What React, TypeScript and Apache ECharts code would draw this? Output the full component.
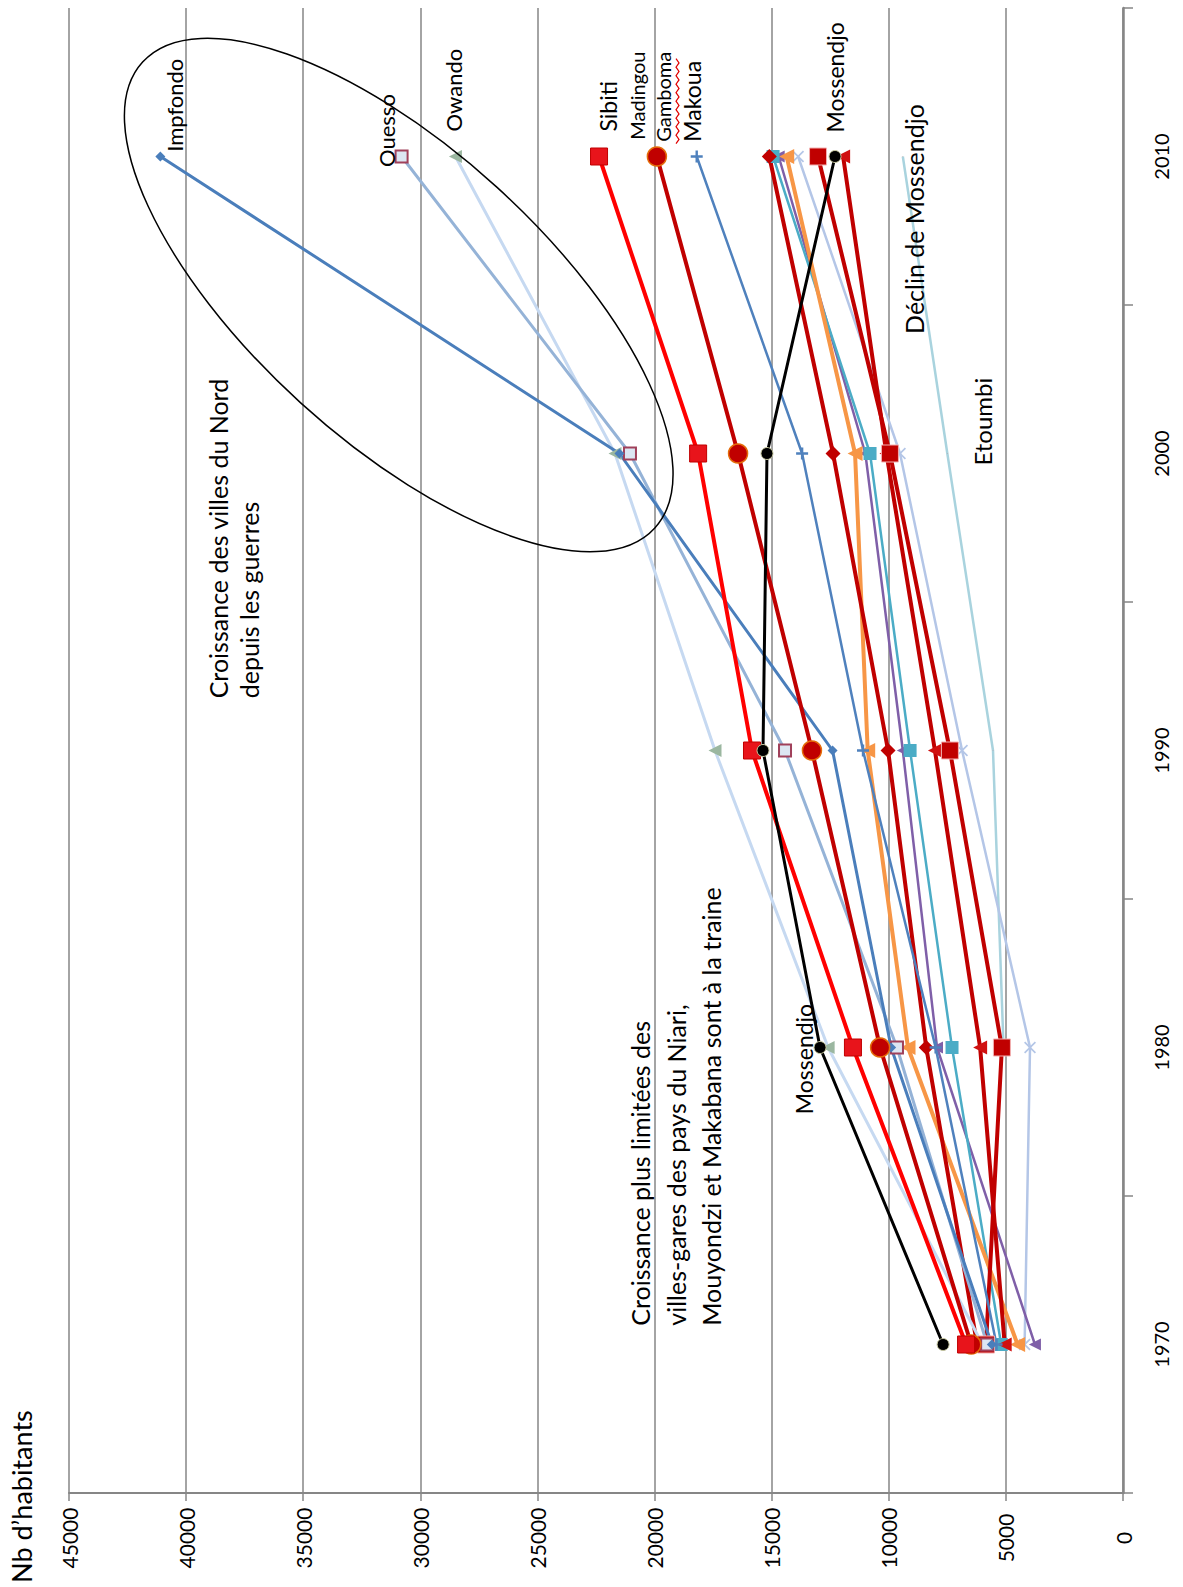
import React, { useEffect, useRef } from "react";
import * as echarts from "echarts";

const years = ["1970", "1980", "1990", "2000", "2010"];

const impfondo = [5600, 9900, 12400, 21500, 41100];
const ouesso = [5800, 9650, 14430, 21050, 30800];
const owando = [6000, 12590, 17420, 21690, 28500];
const sibiti = [6700, 11530, 15840, 18140, 22370];
const madingou = [6480, 10370, 13280, 16435, 19900];
const makoua = [5400, 8000, 11100, 13700, 18200];
const mossendjo = [7680, 12935, 15370, 15200, 12295];
const etoumbi = [null, 5100, 5550, 7500, 9400];
const serieOrange = [4500, 9180, 10900, 11440, 14360];
const serieTeal = [5200, 7300, 9090, 10800, 14940];
const serieDiamond = [6230, 8400, 10030, 12380, 15100];
const serieCross = [5850, 5170, 7390, 9950, 13020];
const serieTriangle = [5050, 6100, 8030, 10100, 11950];
const serieLightX = [4200, 3970, 6870, 9520, 13870];
const seriePurple = [3760, 7940, 9400, 11000, 14700];

const valueMin = 0;
const valueMax = 45000;
const valueStep = 5000;

const plusPath = "path://M4,0H6V4H10V6H6V10H4V6H0V4H4Z";
const xPath = "path://M0,1L1,0L5,4L9,0L10,1L6,5L10,9L9,10L5,6L1,10L0,9L4,5Z";

const FONT = "Lato, 'Open Sans', sans-serif";

function mk(name: string, vals: (number | null)[], color: string, width: number, symbol: string, size: number, item: any = {}, rotate = 0) {
  return {
    name,
    type: "line",
    data: vals.map((v, i) => [v, years[i]]),
    connectNulls: true,
    lineStyle: { color, width },
    symbol,
    symbolSize: size,
    symbolRotate: rotate,
    itemStyle: { color, ...item },
    showAllSymbol: true,
  };
}

function txt(x: number, y: number, text: string, size = 23, extra: any = {}) {
  return {
    type: "text",
    x,
    y,
    rotation: Math.PI / 2,
    style: {
      text,
      fill: "#000",
      font: `${size}px ${FONT}`,
      textAlign: "left",
      textVerticalAlign: "middle",
      ...extra,
    },
    z: 100,
  };
}

export default function App() {
  const ref = useRef<HTMLDivElement>(null);
  useEffect(() => {
    if (!ref.current) return;
    const chart = echarts.init(ref.current, null, { renderer: "svg" });
    const series = [
      mk("Etoumbi", etoumbi, "#A9D3DE", 2.5, plusPath, 1, { color: "#C0504D" }),
      mk("Série Lx", serieLightX, "#B4C6E7", 2.5, xPath, 12),
      mk("Série violette", seriePurple, "#7F5FA8", 2.5, "triangle", 12, {}, 90),
      mk("Série teal", serieTeal, "#4BACC6", 2.5, "rect", 13),
      mk("Série orange", serieOrange, "#F79646", 4, "triangle", 15, {}, 90),
      mk("Série triangle", serieTriangle, "#C00000", 4, "triangle", 14, { color: "#D01010" }, 90),
      mk("Série croix", serieCross, "#C00000", 4, "rect", 17, { borderColor: "#F2B0B0", borderWidth: 1 }),
      mk("Série losange", serieDiamond, "#C00000", 4, "diamond", 15),
      mk("Makoua", makoua, "#4F81BD", 2.5, plusPath, 12),
      mk("Owando", owando, "#C6D9F1", 3, "triangle", 13, { color: "#9BB7A0" }, 90),
      mk("Ouesso", ouesso, "#95B3D7", 3, "rect", 12, { color: "#DCE6F2", borderColor: "#A0405A", borderWidth: 2 }),
      mk("Impfondo", impfondo, "#4A7EBB", 3, "diamond", 10),
      mk("Madingou", madingou, "#C00000", 4, "circle", 19, { color: "#C00000", borderColor: "#E46C0A", borderWidth: 1.5 }),
      mk("Sibiti", sibiti, "#FF0000", 4, "rect", 17, { color: "#E8141B", borderColor: "#C00000", borderWidth: 1 }),
      mk("Mossendjo", mossendjo, "#000000", 3, "circle", 12, { borderColor: "#C8C8A0", borderWidth: 1 }),
    ];
    const s = 1.012;
    const wave: number[][] = [];
    for (let i = 0; i <= 20; i++) {
      wave.push([668 * s + (i % 2 === 0 ? 0 : 3), (142 - i * 4.2) * s]);
    }
    const graphic: any[] = [
      {
        type: "ellipse",
        x: 394 * s,
        y: 291.5 * s,
        rotation: -42.3 * Math.PI / 180,
        shape: { cx: 0, cy: 0, rx: 342 * s, ry: 144 * s },
        style: { fill: "none", stroke: "#000", lineWidth: 1.5 },
        z: 90,
      },
      {
        type: "polyline",
        shape: { points: wave },
        style: { fill: "none", stroke: "#E00000", lineWidth: 1.2 },
        z: 100,
      },
      txt(172 * s, 150 * s, "Impfondo", 22),
      txt(382 * s, 165 * s, "Ouesso", 22),
      txt(448 * s, 130 * s, "Owando", 22),
      txt(601 * s, 130 * s, "Sibiti"),
      txt(629 * s, 138 * s, "Madingou", 20),
      txt(655 * s, 140 * s, "Gamboma", 20),
      txt(684 * s, 140 * s, "Makoua"),
      txt(825 * s, 131 * s, "Mossendjo"),
      txt(903 * s, 330 * s, "Déclin de Mossendjo", 25),
      txt(971 * s, 460 * s, "Etoumbi", 24),
      txt(215 * s, 690 * s, "Croissance des villes du Nord", 25),
      txt(246 * s, 690 * s, "depuis les guerres", 25),
      txt(632 * s, 1310 * s, "Croissance plus limitées des", 25),
      txt(668 * s, 1310 * s, "villes-gares des pays du Niari,", 25),
      txt(703 * s, 1310 * s, "Mouyondzi et Makabana sont à la traine", 25),
      txt(794 * s, 1101 * s, "Mossendjo"),
      txt(21, 1583, "Nb d’habitants", 27),
    ];
    chart.setOption({
      animation: false,
      backgroundColor: "#fff",
      grid: { left: 69, right: 60, top: 8, bottom: 94, containLabel: false },
      xAxis: {
        type: "value",
        inverse: true,
        min: valueMin,
        max: valueMax,
        interval: valueStep,
        position: "bottom",
        axisLine: { show: true, lineStyle: { color: "#868686", width: 2 } },
        axisTick: { show: true, length: 8, lineStyle: { color: "#868686", width: 1.5 } },
        axisLabel: {
          rotate: 90,
          fontSize: 21,
          color: "#000",
          margin: 45,
          align: "center",
          verticalAlign: "middle",
          fontFamily: FONT,
          formatter: (v: number) => String(v),
        },
        splitLine: { show: true, lineStyle: { color: "#868686", width: 1.5 } },
      },
      yAxis: {
        type: "category",
        data: years,
        position: "right",
        boundaryGap: true,
        axisLine: { show: true, onZero: false, lineStyle: { color: "#868686", width: 2.5 } },
        axisTick: { show: true, length: 10, lineStyle: { color: "#868686", width: 1.5 } },
        axisLabel: { rotate: 90, fontSize: 20, color: "#000", margin: 28, fontFamily: FONT },
        splitLine: { show: false },
      },
      series,
      graphic,
    });
    return () => chart.dispose();
  }, []);
  return (
    <div
      ref={ref}
      style={{ position: "absolute", left: 0, top: 0, width: 1183, height: 1587, background: "#fff" }}
    />
  );
}
